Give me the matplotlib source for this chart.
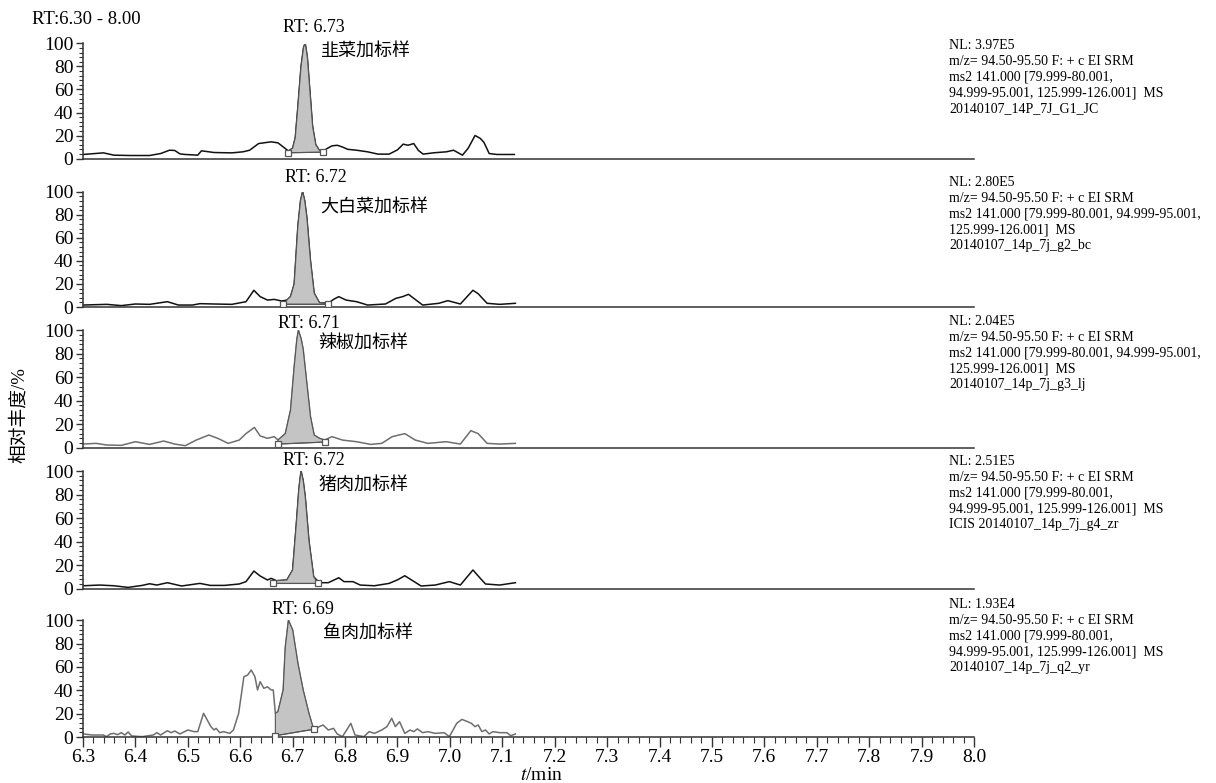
import numpy as np
import matplotlib
matplotlib.use("Agg")
import matplotlib.pyplot as plt
from matplotlib.ticker import MultipleLocator

plt.rcParams['font.family'] = ['Liberation Serif', 'Noto Sans CJK SC']
plt.rcParams['mathtext.fontset'] = 'stix'

# ---- data (time in min, relative abundance in %) ----
t1 = [6.300, 6.339, 6.359, 6.390, 6.427, 6.448, 6.465, 6.475, 6.485, 6.495, 6.519, 6.526, 6.550, 6.584,
      6.605, 6.618, 6.635, 6.659, 6.672, 6.685, 6.692, 6.700, 6.705, 6.710, 6.716, 6.721, 6.724, 6.728,
      6.733, 6.738, 6.744, 6.751, 6.758, 6.765, 6.775, 6.785, 6.795, 6.805, 6.822, 6.843, 6.863, 6.884,
      6.900, 6.911, 6.920, 6.931, 6.940, 6.949, 6.970, 6.993, 7.007, 7.024, 7.035, 7.048, 7.058, 7.065,
      7.075, 7.090, 7.123]
y1 = [3.5, 4.9, 2.9, 2.6, 2.6, 4.3, 7.2, 7.0, 4.0, 3.5, 2.9, 6.7, 5.2, 4.9,
      5.8, 7.2, 13, 14.5, 13.6, 9, 6.5, 9, 18, 45, 80, 97, 100, 88,
      58, 28, 12, 7, 6, 8.5, 11, 11.5, 10, 8, 7.2, 5.8, 3.8, 3.8,
      7.5, 12.5, 11.5, 13, 7, 3.8, 5, 5.8, 7.2, 2.9, 9, 20, 17.5, 14,
      4.3, 3.5, 3.5]

t2 = [6.300, 6.345, 6.373, 6.400, 6.427, 6.461, 6.482, 6.509, 6.523, 6.550, 6.584, 6.611, 6.626, 6.638,
      6.652, 6.665, 6.679, 6.689, 6.696, 6.703, 6.710, 6.715, 6.719, 6.723, 6.727, 6.734, 6.741, 6.751,
      6.768, 6.778, 6.788, 6.802, 6.822, 6.843, 6.877, 6.897, 6.910, 6.921, 6.948, 6.979, 6.996, 7.020,
      7.044, 7.054, 7.071, 7.095, 7.125]
y2 = [1.7, 2.3, 1.2, 2.6, 2.3, 4.6, 1.7, 1.7, 2.9, 2.6, 2.3, 4.6, 14.5, 9,
      6, 6.6, 5.2, 6, 9, 20, 70, 92, 100, 92, 78, 40, 12, 3.8,
      3.2, 6.6, 9, 6, 4.6, 1.7, 2.6, 7.5, 9, 11, 1.7, 3.2, 5.5, 2.6,
      14.5, 11.5, 3.2, 2.3, 3.2]

t3 = [6.300, 6.325, 6.345, 6.373, 6.400, 6.427, 6.454, 6.475, 6.495, 6.516, 6.540, 6.557, 6.577, 6.598,
      6.611, 6.627, 6.638, 6.652, 6.665, 6.672, 6.686, 6.696, 6.703, 6.708, 6.711, 6.716, 6.720, 6.727,
      6.734, 6.741, 6.751, 6.761, 6.775, 6.795, 6.822, 6.849, 6.870, 6.890, 6.914, 6.934, 6.958, 6.993,
      7.020, 7.040, 7.054, 7.071, 7.095, 7.125]
y3 = [3.1, 3.7, 2.3, 2.0, 5.1, 2.8, 5.7, 3.1, 1.7, 6.5, 10.8, 8, 3.7, 6.5,
      12, 17.3, 10, 8, 9.4, 6.5, 12, 32, 69, 92, 100, 93, 84, 55,
      26.4, 10.8, 8, 6.5, 9.4, 6.5, 5.1, 2.8, 3.7, 9.4, 12, 6.5, 3.7, 5.1,
      3.1, 14.5, 12, 3.7, 3.1, 3.7]

t4 = [6.300, 6.332, 6.359, 6.386, 6.413, 6.427, 6.441, 6.461, 6.488, 6.523, 6.543, 6.570, 6.598, 6.611,
      6.626, 6.638, 6.652, 6.659, 6.669, 6.689, 6.700, 6.707, 6.712, 6.716, 6.720, 6.724, 6.731, 6.740,
      6.751, 6.768, 6.788, 6.798, 6.815, 6.829, 6.856, 6.884, 6.900, 6.914, 6.945, 6.972, 6.999, 7.020,
      7.044, 7.058, 7.068, 7.095, 7.125]
y4 = [2.5, 3.1, 2.5, 1.1, 2.8, 4.2, 3.1, 5.1, 2.3, 4.5, 2.8, 2.8, 4.0, 6.0,
      15, 10.8, 7.4, 8.8, 6.8, 7.4, 15.9, 55, 85, 100, 92, 78, 41, 10.2,
      5.1, 5.1, 9.3, 6.0, 6.0, 3.1, 2.5, 4.5, 7.5, 11, 2.3, 3.1, 6.0, 3.1,
      15.9, 8.8, 4.0, 3.1, 5.1]

t5 = [6.300, 6.318, 6.339, 6.345, 6.352, 6.359, 6.366, 6.373, 6.380, 6.386, 6.393, 6.413, 6.434, 6.441,
      6.448, 6.461, 6.468, 6.475, 6.485, 6.500, 6.512, 6.519, 6.530, 6.544, 6.550, 6.554, 6.561, 6.568,
      6.580, 6.587, 6.597, 6.607, 6.614, 6.621, 6.628, 6.633, 6.638, 6.645, 6.652, 6.659, 6.663, 6.667,
      6.672, 6.682, 6.686, 6.692, 6.700, 6.710, 6.720, 6.731, 6.740, 6.751, 6.758, 6.768, 6.778, 6.785,
      6.795, 6.811, 6.819, 6.836, 6.846, 6.856, 6.870, 6.880, 6.889, 6.896, 6.904, 6.914, 6.924, 6.931,
      6.938, 6.948, 6.958, 6.972, 6.989, 6.999, 7.013, 7.023, 7.034, 7.041, 7.048, 7.054, 7.061, 7.068,
      7.075, 7.082, 7.095, 7.109, 7.116, 7.125]
y5 = [2.6, 1.7, 1.7, 0.3, 2.6, 3.1, 2.0, 3.7, 1.7, 4.3, 0.9, 0.3, 1.7, 3.7,
      1.7, 5.4, 3.7, 5.1, 2.6, 6.0, 4.6, 4.6, 20.3, 8.9, 6.0, 7.4, 3.7, 4.6,
      3.1, 6.0, 20.3, 51.7, 53, 57.4, 51.7, 40.3, 47.4, 41.7, 43, 40.3, 40.3, 20.3,
      21.7, 40.3, 77, 100, 91.7, 63, 40.3, 20.3, 6.6, 8.9, 10.3, 6.0, 7.4, 2.6,
      0.3, 11.7, 1.7, 0.3, 4.6, 3.1, 6.0, 8.9, 16, 8.9, 13.1, 3.1, 6.0, 4.6,
      6.9, 3.7, 4.6, 3.1, 3.7, 0.3, 11.7, 15.1, 13.1, 11.7, 8.9, 10.3, 4.6, 6.0,
      2.6, 4.6, 3.7, 3.7, 1.1, 2.6]

times = [t1, t2, t3, t4, t5]
abund = [y1, y2, y3, y4, y5]
trace_colors = ['#111111', '#111111', '#6e6e6e', '#111111', '#6e6e6e']

# integration baseline end points (time, abundance)
peak_start = [(6.692, 5.0), (6.682, 2.5), (6.672, 3.1), (6.663, 4.5), (6.667, 1.1)]
peak_end = [(6.758, 5.5), (6.768, 2.5), (6.761, 4.8), (6.749, 4.5), (6.740, 6.6)]

rt_labels = ['RT: 6.73', 'RT: 6.72', 'RT: 6.71', 'RT: 6.72', 'RT: 6.69']
rt_pos = [(6.740, 114), (6.745, 112), (6.731, 106), (6.740, 109), (6.719, 109)]
sample_names = ['韭菜加标样', '大白菜加标样', '辣椒加标样', '猪肉加标样', '鱼肉加标样']
name_pos = [(6.752, 94), (6.752, 86), (6.748, 89), (6.750, 88), (6.758, 89)]

info_blocks = [
    ['NL: 3.97E5', 'm/z= 94.50-95.50 F: + c EI SRM', 'ms2 141.000 [79.999-80.001,',
     '94.999-95.001, 125.999-126.001]  MS', '20140107_14P_7J_G1_JC'],
    ['NL: 2.80E5', 'm/z= 94.50-95.50 F: + c EI SRM', 'ms2 141.000 [79.999-80.001, 94.999-95.001,',
     '125.999-126.001]  MS', '20140107_14p_7j_g2_bc'],
    ['NL: 2.04E5', 'm/z= 94.50-95.50 F: + c EI SRM', 'ms2 141.000 [79.999-80.001, 94.999-95.001,',
     '125.999-126.001]  MS', '20140107_14p_7j_g3_lj'],
    ['NL: 2.51E5', 'm/z= 94.50-95.50 F: + c EI SRM', 'ms2 141.000 [79.999-80.001,',
     '94.999-95.001, 125.999-126.001]  MS', 'ICIS 20140107_14p_7j_g4_zr'],
    ['NL: 1.93E4', 'm/z= 94.50-95.50 F: + c EI SRM', 'ms2 141.000 [79.999-80.001,',
     '94.999-95.001, 125.999-126.001]  MS', '20140107_14p_7j_q2_yr'],
]

# ---- layout (pixel positions of the 100 and 0 lines of each panel) ----
W, H = 1216, 783
x_left, x_right = 83, 974
panel_px = [(43.5, 158.5), (191.7, 307), (330.3, 447.7), (471, 588.7), (620.3, 737)]
info_top_px = [39, 176, 315, 455, 598]

fig = plt.figure(figsize=(W / 100, H / 100), dpi=100)
axes = []
for i, (ptop, pbot) in enumerate(panel_px):
    ax = fig.add_axes([x_left / W, 1 - pbot / H, (x_right - x_left) / W, (pbot - ptop) / H])
    axes.append(ax)
    t = np.array(times[i])
    a = np.array(abund[i])
    ax.plot(t, a, color=trace_colors[i], lw=1.1)

    # shaded integrated peak
    xs, bs = peak_start[i]
    xe, be = peak_end[i]
    inside = (t >= xs) & (t <= xe)
    px = [xs] + list(t[inside]) + [xe]
    py = [bs] + list(a[inside]) + [be]
    ax.fill(px, py, facecolor='#c4c4c4', edgecolor='#555555', lw=0.8, zorder=2)
    ax.plot([xs, xe], [bs, be], color='#555555', lw=0.8, zorder=3)
    ax.plot([xs, xe], [bs, be], ls='none', marker='s', ms=5, mfc='white', mec='#555555', mew=0.9, zorder=4)

    ax.text(rt_pos[i][0], rt_pos[i][1], rt_labels[i], ha='center', va='center', fontsize=13, clip_on=False)
    ax.text(name_pos[i][0], name_pos[i][1], sample_names[i], ha='left', va='center', fontsize=13,
            family=['Noto Sans CJK SC'])

    ax.set_xlim(6.3, 8.0)
    ax.set_ylim(0, 100)
    for s in ['top', 'right']:
        ax.spines[s].set_visible(False)
    for s in ['left', 'bottom']:
        ax.spines[s].set_color('#333333')
        ax.spines[s].set_linewidth(1.1)
    ax.yaxis.set_major_locator(MultipleLocator(20))
    ax.yaxis.set_minor_locator(MultipleLocator(4))
    ax.tick_params(axis='y', which='major', length=5, width=1, labelsize=14, pad=2, color='#333333')
    ax.tick_params(axis='y', which='minor', length=3, width=0.8, color='#333333')
    ax.patch.set_alpha(0)

    # instrument info on the right
    for j, line in enumerate(info_blocks[i]):
        fig.text(949 / W, 1 - (info_top_px[i] + j * 15.8) / H, line, ha='left', va='top', fontsize=10)

for ax in axes[:-1]:
    ax.tick_params(axis='x', which='both', bottom=False, labelbottom=False)

axb = axes[-1]
axb.xaxis.set_major_locator(MultipleLocator(0.1))
axb.xaxis.set_minor_locator(MultipleLocator(0.02))
axb.xaxis.set_major_formatter(plt.FuncFormatter(lambda v, p: f'{v:.1f}'))
axb.tick_params(axis='x', which='major', length=7, width=1, labelsize=14, pad=1.5, color='#333333')
axb.tick_params(axis='x', which='minor', length=4, width=0.8, color='#333333')

fig.text(32 / W, 1 - 19 / H, 'RT:6.30 - 8.00', ha='left', va='center', fontsize=13.5)
fig.text(541 / W, 1 - 775 / H, r'$t$/min', ha='center', va='center', fontsize=14)
fig.text(19 / W, 1 - 415 / H, '相对丰度/%', ha='center', va='center', rotation=90, fontsize=13.5)

fig.savefig('out.png', dpi=100)
